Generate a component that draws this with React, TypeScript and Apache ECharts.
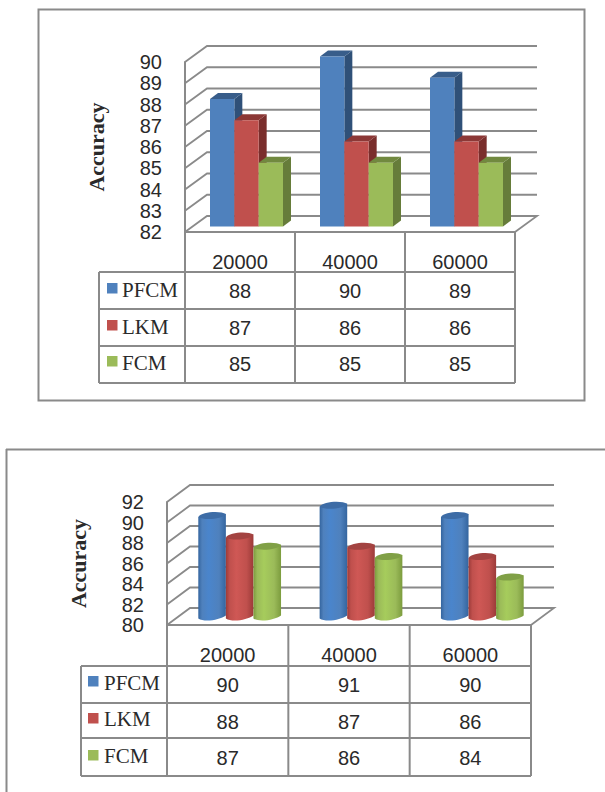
import React, { useEffect, useRef } from "react";
import * as echarts from "echarts";

const categories = ["20000", "40000", "60000"];
const seriesNames = ["PFCM", "LKM", "FCM"];

const boxPfcm = [88, 90, 89];
const boxLkm = [87, 86, 86];
const boxFcm = [85, 85, 85];

const cylPfcm = [90, 91, 90];
const cylLkm = [88, 87, 86];
const cylFcm = [87, 86, 84];

const boxTicks = [82, 83, 84, 85, 86, 87, 88, 89, 90];
const cylTicks = [80, 82, 84, 86, 88, 90, 92];

const palette = {
  front: ["#4F81BD", "#C0504D", "#9BBB59"],
  top: ["#385D8A", "#8C3836", "#71893F"],
  side: ["#2F5078", "#7A2E2C", "#667C3A"],
  cap: ["#3D6CA6", "#A34341", "#80A046"],
  edge: ["#34659F", "#9C3B39", "#7C9C3E"],
  glow: ["#4A85CC", "#CF5855", "#A6CC5C"],
};

const LINE = "#8A8A8A";
const INK = "#2A2A2A";
const SANS = "'Liberation Sans'";
const SLAB = "'Liberation Serif'";

type Panel = {
  left: number; right: number; top: number; bottom: number;
  depthX: number; depthY: number;
  legendLeft: number; rowLines: number[];
  swatchX: number; labelX: number;
};

const boxPanel: Panel = {
  left: 185, right: 515, top: 62, bottom: 232, depthX: 22, depthY: 16,
  legendLeft: 99, rowLines: [272, 309, 346, 383],
  swatchX: 107, labelX: 122,
};
const cylPanel: Panel = {
  left: 167, right: 531, top: 502, bottom: 625, depthX: 23, depthY: 17,
  legendLeft: 81, rowLines: [666, 703, 738, 776],
  swatchX: 88, labelX: 104,
};

// Gridlines running along the side wall and the back wall, plus the floor.
function wallSeries(index: number, ticks: number[], panel: Panel) {
  return {
    type: "custom",
    xAxisIndex: index,
    yAxisIndex: index,
    silent: true,
    z: 1,
    data: ticks.map((t) => [0, t]),
    encode: { y: 1 },
    renderItem: (params: any, api: any) => {
      const y = api.coord([0, api.value(1)])[1];
      const { left, right, depthX: dx, depthY: dy } = panel;
      const isFloor = params.dataIndex === 0;
      const points = isFloor
        ? [[left, y], [left + dx, y - dy], [right + dx, y - dy], [right, y]]
        : [[left, y], [left + dx, y - dy], [right + dx, y - dy]];
      return {
        type: "polyline",
        shape: { points },
        style: { stroke: LINE, lineWidth: 1.8, fill: "none" },
      };
    },
  };
}

// Extruded column: front face, top parallelogram and dark side face.
function boxSeries(name: string, values: number[], slot: number) {
  return {
    type: "custom",
    name,
    xAxisIndex: 0,
    yAxisIndex: 0,
    z: 3,
    data: values.map((v, i) => [i, v]),
    encode: { x: 0, y: 1 },
    renderItem: (_: any, api: any) => {
      const [cx, py] = api.coord([api.value(0), api.value(1)]);
      const base = api.coord([api.value(0), 82])[1];
      const w = api.size([1, 0])[0] * 0.2212;
      const x0 = cx + 6.5 - 1.5 * w + slot * w;
      const x1 = x0 + w;
      const yt = py - 5.5;
      const yb = base - 5.5;
      const dx = 8;
      const dy = 6;
      return {
        type: "group",
        children: [
          { type: "polygon", shape: { points: [[x1, yt], [x1 + dx, yt - dy], [x1 + dx, yb - dy], [x1, yb]] }, style: { fill: palette.side[slot] } },
          { type: "polygon", shape: { points: [[x0, yt], [x0 + dx, yt - dy], [x1 + dx, yt - dy], [x1, yt]] }, style: { fill: palette.top[slot] } },
          { type: "rect", shape: { x: x0, y: yt, width: w, height: yb - yt }, style: { fill: palette.front[slot] } },
        ],
      };
    },
  };
}

// Cylinder: shaded body with a darker, slightly tilted elliptical cap.
function cylinderSeries(name: string, values: number[], slot: number) {
  return {
    type: "custom",
    name,
    xAxisIndex: 1,
    yAxisIndex: 1,
    z: 3,
    data: values.map((v, i) => [i, v]),
    encode: { x: 0, y: 1 },
    renderItem: (_: any, api: any) => {
      const [cx, py] = api.coord([api.value(0), api.value(1)]);
      const base = api.coord([api.value(0), 80])[1];
      const w = api.size([1, 0])[0] * 0.2273;
      const x0 = cx + 12 - 1.5 * w + slot * w;
      const x1 = x0 + w;
      const ry = 3;
      const tilt = 1.5;
      const yt = py - 7;
      const yb = base - 8;
      const body = `M${x0} ${yt + tilt} C${x0} ${yt + tilt} ${x0} ${yb} ${x0} ${yb + tilt}`
        + ` C${x0 + 6} ${yb + tilt + 4} ${x1 - 6} ${yb + 3} ${x1} ${yb - tilt}`
        + ` L${x1} ${yt - tilt} Z`;
      const cap = `M${x0} ${yt + tilt} C${x0 + 3} ${yt - ry - 1} ${x1 - 5} ${yt - ry - 2} ${x1} ${yt - tilt}`
        + ` C${x1 - 3} ${yt + ry + 1} ${x0 + 5} ${yt + ry + 2} ${x0} ${yt + tilt} Z`;
      const shade = new echarts.graphic.LinearGradient(0, 0, 1, 0, [
        { offset: 0, color: palette.edge[slot] },
        { offset: 0.14, color: palette.front[slot] },
        { offset: 0.38, color: palette.glow[slot] },
        { offset: 0.75, color: palette.front[slot] },
        { offset: 1, color: palette.edge[slot] },
      ]);
      return {
        type: "group",
        children: [
          { type: "path", shape: { pathData: body, layout: "none" }, style: { fill: shade } },
          { type: "path", shape: { pathData: cap, layout: "none" }, style: { fill: palette.cap[slot] } },
        ],
      };
    },
  };
}

function hLine(x1: number, x2: number, y: number, width = 2, color = LINE) {
  return { type: "line", silent: true, z: 5, shape: { x1, y1: y, x2, y2: y }, style: { stroke: color, lineWidth: width } };
}
function vLine(x: number, y1: number, y2: number, width = 2, color = LINE) {
  return { type: "line", silent: true, z: 5, shape: { x1: x, y1, x2: x, y2 }, style: { stroke: color, lineWidth: width } };
}
function label(x: number, y: number, text: string, font: string, size: number, align = "center") {
  return {
    type: "text", silent: true, z: 6, x, y,
    style: { text, fill: INK, fontFamily: font, fontSize: size, align, verticalAlign: "middle" },
  };
}

// Data table below the plot: header columns, legend keys and one row per series.
function tableGraphics(panel: Panel, rows: number[][], textRows: number[], swatchRows: number[], legendRows: number[]) {
  const { left, right, rowLines, legendLeft, swatchX, labelX } = panel;
  const colWidth = (right - left) / categories.length;
  const out: any[] = [];
  for (let c = 0; c <= categories.length; c++) {
    out.push(vLine(left + c * colWidth, panel.bottom, rowLines[rowLines.length - 1]));
  }
  out.push(vLine(legendLeft, rowLines[0], rowLines[rowLines.length - 1]));
  rowLines.forEach((y) => out.push(hLine(legendLeft, right, y)));
  seriesNames.forEach((name, r) => {
    out.push({
      type: "rect", silent: true, z: 6,
      shape: { x: swatchX, y: swatchRows[r], width: 10.5, height: 10.5 },
      style: { fill: palette.front[r] },
    });
    out.push(label(labelX, legendRows[r], name, SLAB, 21, "left"));
    rows[r].forEach((value, c) => {
      out.push(label(left + (c + 0.5) * colWidth, textRows[r], String(value), SANS, 20));
    });
  });
  return out;
}

function gridAxis(index: number) {
  return {
    type: "category",
    gridIndex: index,
    data: categories,
    axisTick: { show: false },
    axisLine: { show: true, lineStyle: { color: LINE, width: 2 } },
    axisLabel: { color: INK, fontFamily: SANS, fontSize: 20, margin: 20 },
  };
}

function valueAxis(index: number, min: number, max: number, interval: number, nameGap: number) {
  return {
    type: "value",
    gridIndex: index,
    min,
    max,
    interval,
    name: "Accuracy",
    nameLocation: "middle",
    nameRotate: 90,
    nameGap,
    nameTextStyle: { color: INK, fontFamily: SLAB, fontWeight: "bold", fontSize: 22 },
    splitLine: { show: false },
    axisTick: { show: false },
    axisLine: { show: true, lineStyle: { color: LINE, width: 2 } },
    axisLabel: { color: INK, fontFamily: SANS, fontSize: 20, margin: 23 },
  };
}

const option = {
  animation: false,
  backgroundColor: "#ffffff",
  grid: [
    { left: boxPanel.left, top: boxPanel.top, width: boxPanel.right - boxPanel.left, height: boxPanel.bottom - boxPanel.top },
    { left: cylPanel.left, top: cylPanel.top, width: cylPanel.right - cylPanel.left, height: cylPanel.bottom - cylPanel.top },
  ],
  xAxis: [gridAxis(0), gridAxis(1)],
  yAxis: [valueAxis(0, 82, 90, 1, 78), valueAxis(1, 80, 92, 2, 78)],
  series: [
    wallSeries(0, boxTicks, boxPanel),
    wallSeries(1, cylTicks, cylPanel),
    boxSeries("PFCM", boxPfcm, 0),
    boxSeries("LKM", boxLkm, 1),
    boxSeries("FCM", boxFcm, 2),
    cylinderSeries("PFCM", cylPfcm, 0),
    cylinderSeries("LKM", cylLkm, 1),
    cylinderSeries("FCM", cylFcm, 2),
  ],
  graphic: [
    { type: "rect", silent: true, z: 0, shape: { x: 38.5, y: 9.5, width: 546, height: 391 }, style: { fill: "none", stroke: LINE, lineWidth: 2 } },
    hLine(6, 605, 449.5, 2),
    vLine(6.5, 449, 792, 2),
    ...tableGraphics(boxPanel, [boxPfcm, boxLkm, boxFcm], [291, 328, 364], [283, 320, 356], [290, 327, 363]),
    ...tableGraphics(cylPanel, [cylPfcm, cylLkm, cylFcm], [685, 722, 758], [676, 713, 750], [683, 719, 756]),
  ],
};

export default function App() {
  const ref = useRef<HTMLDivElement>(null);
  useEffect(() => {
    const chart = echarts.init(ref.current!, undefined, { renderer: "svg" });
    chart.setOption(option as any);
    return () => chart.dispose();
  }, []);
  return <div ref={ref} style={{ position: "absolute", left: 0, top: 0, width: 605, height: 792 }} />;
}
